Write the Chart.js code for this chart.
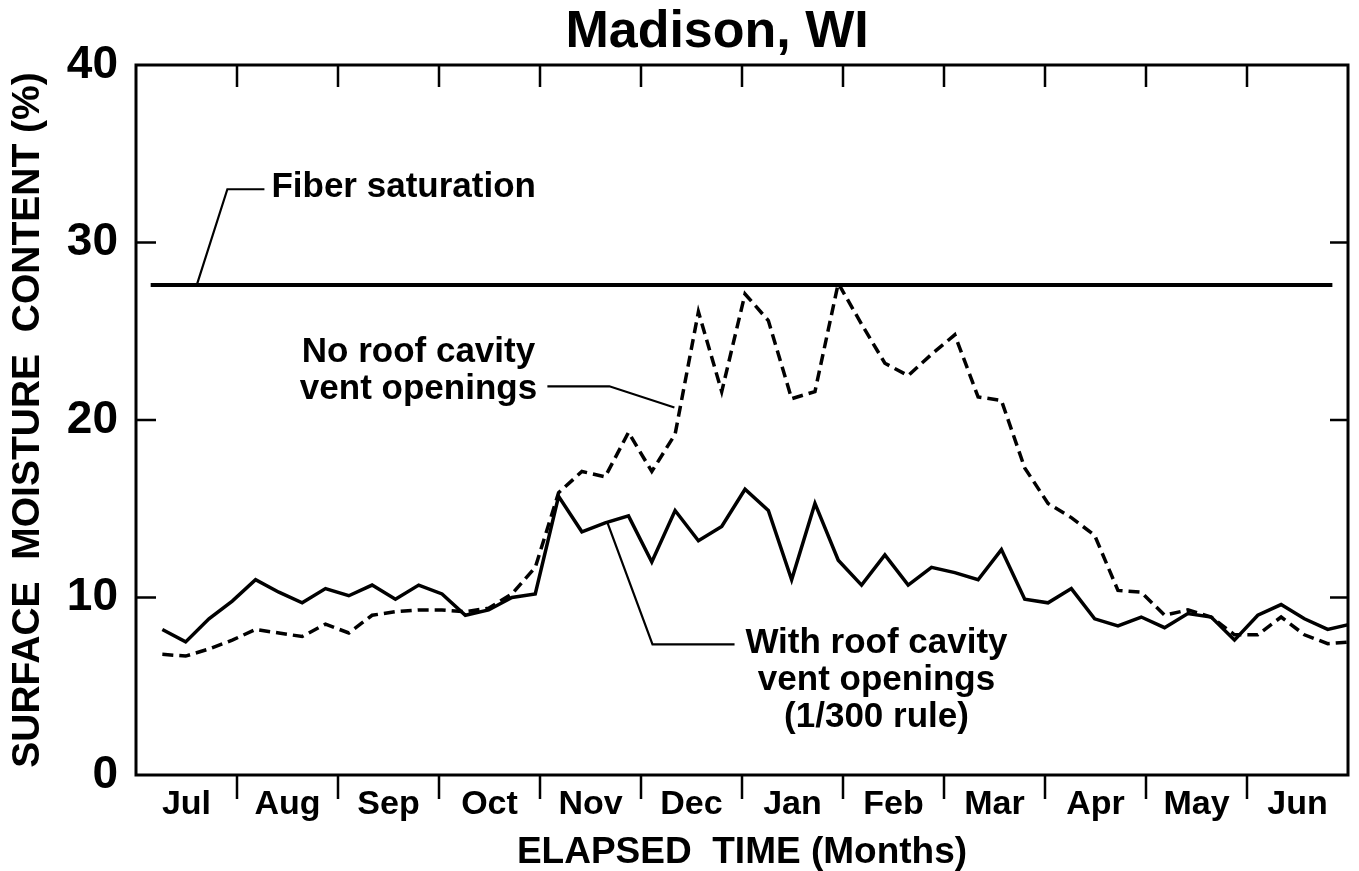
<!DOCTYPE html>
<html>
<head>
<meta charset="utf-8">
<script src="https://cdn.jsdelivr.net/npm/chart.js@4.4.1/dist/chart.umd.min.js"></script>
<style>
  html, body { margin: 0; padding: 0; background: #fff; }
</style>
</head>
<body>
<canvas id="moisture" width="1359" height="871"></canvas>
<script>
const FONT = '"Liberation Sans", Arial, Helvetica, sans-serif';
Chart.defaults.font.family = FONT;
Chart.defaults.color = '#000';

// months along the x axis, one label per month
const months = ['Jul', 'Aug', 'Sep', 'Oct', 'Nov', 'Dec', 'Jan', 'Feb', 'Mar', 'Apr', 'May', 'Jun'];

// weekly readings
const weeks = [1, 2, 3, 4, 5, 6, 7, 8, 9, 10, 11, 12, 13, 14, 15, 16, 17, 18, 19, 20, 21, 22, 23, 24, 25, 26,
  27, 28, 29, 30, 31, 32, 33, 34, 35, 36, 37, 38, 39, 40, 41, 42, 43, 44, 45, 46, 47, 48, 49, 50, 51, 52];

// with roof cavity vent openings (1/300 rule), %
const withVents = [8.2, 7.5, 8.8, 9.8, 11.0, 10.3, 9.7, 10.5, 10.1, 10.7, 9.9, 10.7, 10.2, 9.0, 9.3, 10.0, 10.2,
  15.7, 13.7, 14.2, 14.6, 12.0, 14.9, 13.2, 14.0, 16.1, 14.9, 11.0, 15.3, 12.1, 10.7, 12.4, 10.7, 11.7, 11.4,
  11.0, 12.7, 9.9, 9.7, 10.5, 8.8, 8.4, 8.9, 8.3, 9.1, 8.9, 7.6, 9.0, 9.6, 8.8, 8.2, 8.5];

// no roof cavity vent openings, %
const noVents = [6.8, 6.7, 7.1, 7.6, 8.2, 8.0, 7.8, 8.5, 8.0, 9.0, 9.2, 9.3, 9.3, 9.2, 9.4, 10.2, 11.7,
  15.9, 17.1, 16.8, 19.3, 17.1, 19.2, 26.1, 21.6, 27.1, 25.6, 21.2, 21.6, 27.7, 25.4, 23.2, 22.5, 23.7, 24.8,
  21.3, 21.1, 17.3, 15.3, 14.5, 13.5, 10.4, 10.3, 9.0, 9.3, 8.9, 7.9, 7.9, 8.9, 7.9, 7.4, 7.5];

// fiber saturation reference line
const fiberWeeks = [0.5, 51.2];
const fiberLevel = [27.6, 27.6];

const yTicks = [0, 10, 20, 30, 40];

const chartTitle = 'Madison, WI';
const titleWeek = 24.8; // title sits a little left of the plot centre

// callout texts and leader lines, in (week, %) coordinates
const notes = [
  { lines: ['Fiber saturation'], at: [5.68, 33.1], align: 'left' },
  { lines: ['No roof cavity', 'vent openings'], at: [11.99, 23.8], align: 'center' },
  { lines: ['With roof cavity', 'vent openings', '(1/300 rule)'], at: [31.64, 7.4], align: 'center' }
];
const leaders = [
  [[2.5, 27.7], [3.79, 33.0], [5.38, 33.0]],
  [[17.52, 21.9], [20.18, 21.9], [22.97, 20.7]],
  [[20.10, 14.2], [22.03, 7.36], [25.55, 7.36]]
];

const xMin = -0.13, xMax = 51.87;
const weeksPerMonth = (xMax - xMin) / months.length;

const framePlugin = {
  id: 'frame',
  afterDatasetsDraw(chart) {
    const { ctx, chartArea: a, scales: { x, y } } = chart;
    ctx.save();
    ctx.strokeStyle = '#000';
    ctx.lineWidth = 3;
    ctx.strokeRect(a.left, a.top, a.right - a.left, a.bottom - a.top);

    ctx.lineWidth = 2.5;
    ctx.beginPath();
    for (let k = 1; k < months.length; k++) {
      const px = x.getPixelForValue(xMin + k * weeksPerMonth);
      ctx.moveTo(px, a.top);
      ctx.lineTo(px, a.top + 22);
      ctx.moveTo(px, a.bottom);
      ctx.lineTo(px, a.bottom + 24);
    }
    yTicks.slice(1, -1).forEach(v => {
      const py = y.getPixelForValue(v);
      ctx.moveTo(a.left, py);
      ctx.lineTo(a.left + 20, py);
      ctx.moveTo(a.right, py);
      ctx.lineTo(a.right - 18, py);
    });
    ctx.stroke();

    // leader lines
    ctx.lineWidth = 2.2;
    leaders.forEach(pts => {
      ctx.beginPath();
      pts.forEach(([w, v], i) => {
        const px = x.getPixelForValue(w), py = y.getPixelForValue(v);
        if (i === 0) ctx.moveTo(px, py); else ctx.lineTo(px, py);
      });
      ctx.stroke();
    });

    // callout texts
    ctx.fillStyle = '#000';
    ctx.font = 'bold 35px ' + FONT;
    ctx.textBaseline = 'middle';
    notes.forEach(n => {
      ctx.textAlign = n.align;
      const px = x.getPixelForValue(n.at[0]);
      let py = y.getPixelForValue(n.at[1]);
      n.lines.forEach(t => {
        ctx.fillText(t, px, py);
        py += 37;
      });
    });

    // chart title
    ctx.font = 'bold 52px ' + FONT;
    ctx.textAlign = 'center';
    ctx.fillText(chartTitle, x.getPixelForValue(titleWeek), a.top / 2);
    ctx.restore();
  }
};

new Chart(document.getElementById('moisture'), {
  type: 'line',
  data: {
    datasets: [
      {
        label: 'Fiber saturation',
        data: fiberWeeks.map((w, i) => ({ x: w, y: fiberLevel[i] })),
        borderColor: '#000',
        borderWidth: 4
      },
      {
        label: 'With roof cavity vent openings',
        data: weeks.map((w, i) => ({ x: w, y: withVents[i] })),
        borderColor: '#000',
        borderWidth: 3.5
      },
      {
        label: 'No roof cavity vent openings',
        data: weeks.map((w, i) => ({ x: w, y: noVents[i] })),
        borderColor: '#000',
        borderWidth: 3.5,
        borderDash: [11, 6]
      }
    ]
  },
  options: {
    responsive: false,
    animation: false,
    layout: { padding: { left: 0, right: 11, top: 65, bottom: 0 } },
    elements: {
      point: { radius: 0 },
      line: { tension: 0, fill: false }
    },
    scales: {
      x: {
        type: 'linear',
        min: xMin,
        max: xMax,
        grid: { display: false },
        border: { display: false },
        afterBuildTicks: scale => {
          scale.ticks = months.map((m, k) => ({ value: xMin + (k + 0.5) * weeksPerMonth }));
        },
        afterFit: scale => { scale.height = 96; },
        ticks: {
          autoSkip: false,
          maxRotation: 0,
          padding: 1,
          font: { size: 34, weight: 'bold' },
          callback: (val, idx) => months[idx]
        },
        title: {
          display: true,
          text: 'ELAPSED  TIME (Months)',
          font: { size: 37, weight: 'bold', lineHeight: 1.0 },
          padding: { top: 0, bottom: 0 }
        }
      },
      y: {
        min: 0,
        max: 40,
        grid: { display: false },
        border: { display: false },
        afterFit: scale => { scale.width = 136; },
        ticks: {
          stepSize: 10,
          padding: 10,
          font: { size: 46, weight: 'bold' }
        },
        title: {
          display: true,
          text: 'SURFACE  MOISTURE  CONTENT (%)',
          font: { size: 39, weight: 'bold', lineHeight: 1.2 },
          padding: { top: 5, bottom: 0 }
        }
      }
    },
    plugins: {
      legend: { display: false },
      tooltip: { enabled: false },
      title: { display: false }
    }
  },
  plugins: [framePlugin]
});
</script>
</body>
</html>
